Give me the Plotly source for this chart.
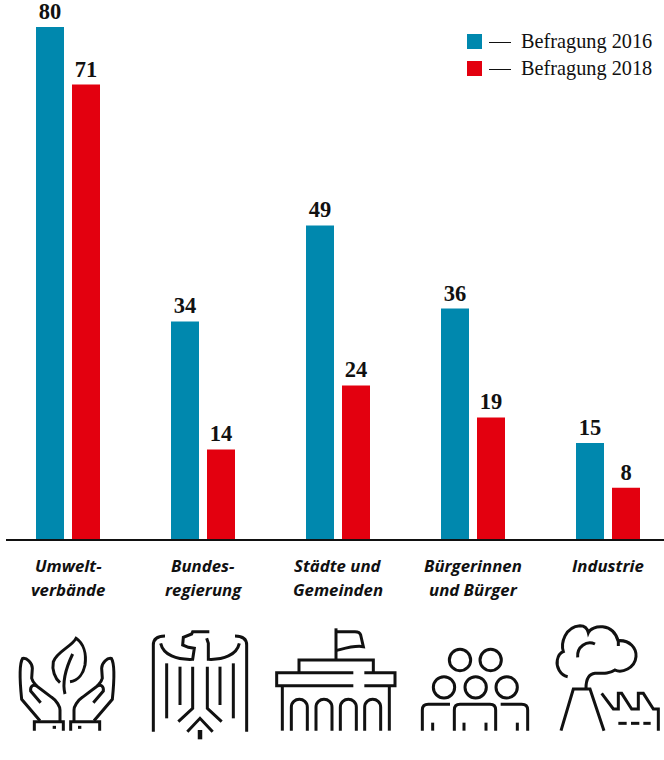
import re
import plotly.graph_objects as go

# Survey results per actor group
categories = ["Umweltverbände", "Bundesregierung", "Städte und Gemeinden", "Bürgerinnen und Bürger", "Industrie"]
label_lines = [["Umwelt-", "verbände"], ["Bundes-", "regierung"], ["Städte und", "Gemeinden"], ["Bürgerinnen", "und Bürger"], ["Industrie"]]
values_2016 = [80, 34, 49, 36, 15]
values_2018 = [71, 14, 24, 19, 8]
series_names = ["Befragung 2016", "Befragung 2018"]
series_colors = ["#0088AE", "#E3000F"]

WIDTH, HEIGHT = 664, 760
LEFT, BASE = 6, 539          # plot area's left edge and baseline, in page pixels
STEP, FIRST = 135, 68        # category spacing and first category centre
UNIT = 6.4                   # pixels per survey point
INK = "#111111"
SERIF = "Liberation Serif"
SANS = "Open Sans"


def px(x):
    return (x - LEFT) / (WIDTH - LEFT)


def py(y):
    return (BASE - y) / BASE


def to_paper(path, ox, oy, mirror=None):
    """Turn a path drawn at 3x scale around (ox, oy) into paper coordinates."""
    nums = iter(range(10 ** 6))

    def conv(m):
        v = float(m.group())
        if next(nums) % 2 == 0:
            v = v if mirror is None else 2 * mirror - v
            return f"{px(ox + v / 3):.5f}"
        return f"{py(oy + v / 3):.5f}"

    return re.sub(r"-?\d+(?:\.\d+)?", conv, path)


shapes = []


def stroke(path, ox, oy, width=3, mirror=None):
    shapes.append(dict(type="path", xref="paper", yref="paper", layer="above",
                       path=to_paper(path, ox, oy, mirror),
                       line=dict(color=INK, width=width)))


def ring(cx, cy, r, ox, oy, width=3):
    shapes.append(dict(type="circle", xref="paper", yref="paper",
                       x0=px(ox + (cx - r) / 3), x1=px(ox + (cx + r) / 3),
                       y0=py(oy + (cy + r) / 3), y1=py(oy + (cy - r) / 3),
                       line=dict(color=INK, width=width)))


# Hands around a leaf
HANDS = [
    "M103,362 L103,335 L190,335 L190,362",
    "M120,332 L65,268 C60,220 58,160 68,145 C80,142 97,160 97,175 L95,205 C97,215 105,222 110,228",
    "M122,278 L92,243 C90,228 100,222 110,228 L155,262 C170,272 180,290 180,300 L180,335",
    "M158,352 L168,352",
]
for p in HANDS:
    stroke(p, 0, 610)
    stroke(p, 0, 610, mirror=201)
stroke("M180,218 C165,205 155,180 160,155 C170,125 215,110 228,85 C250,100 260,130 255,165 C250,190 235,212 210,215", 0, 610)
stroke("M195,252 C188,225 190,190 218,132", 0, 610)

# Federal eagle
EAGLE_SIDE = [
    "M460,365 L460,105 C460,85 475,78 495,78",
    "M500,160 L500,325",
    "M540,170 L540,285",
    "M578,170 L578,295 L535,335",
]
for p in EAGLE_SIDE:
    stroke(p, 0, 610)
    stroke(p, 0, 610, mirror=600)
stroke("M628,65 L578,65 L575,72 L550,82 L548,105 L565,112 L583,115 L578,148 C530,150 490,135 482,100", 0, 610)
stroke("M620,85 L625,100 L625,148 C670,150 710,135 718,100", 0, 610)
stroke("M562,365 L600,325 L638,365", 0, 610)
stroke("M600,360 L600,388", 0, 610, width=4.5)

# Town hall with flag
stroke("M213,150 L213,55", 265, 610)
stroke("M213,65 L270,65 C280,65 285,68 287,75 L295,110 C270,105 240,115 213,122", 265, 610)
stroke("M102,187 L102,150 L325,150 L325,187", 265, 610)
stroke("M265,188 L35,188 L35,227 L265,227", 265, 610)
stroke("M298,188 L390,188 L390,227 L298,227", 265, 610)
stroke("M52,228 L52,362", 265, 610)
stroke("M373,228 L373,362", 265, 610)
for c in (103, 177, 250, 323):
    stroke(f"M{c - 24},362 L{c - 24},292 C{c - 24},260 {c + 24},260 {c + 24},292 L{c + 24},362", 265, 610)

# Group of people
for cx, cy in ((585, 150), (677, 150), (537, 232), (632, 232), (725, 232)):
    ring(cx, cy, 32, 265, 610)
stroke("M472,362 L472,300 C472,288 478,283 490,283 L555,283", 265, 610)
stroke("M568,362 L568,300 C568,288 575,283 585,283 L675,283 C687,283 692,288 692,300 L692,362", 265, 610)
stroke("M707,283 L770,283 C782,283 788,288 788,300 L788,362", 265, 610)
for x in (503, 597, 663, 757):
    stroke(f"M{x},338 L{x},362", 265, 610)

# Factory with smoke cloud
stroke("M113,200 C90,195 78,170 82,150 C85,135 92,128 100,125 C92,100 105,50 150,47 C165,47 172,55 175,68 C185,45 250,35 265,95 L265,108", 530, 610)
stroke("M265,92 C300,90 320,115 318,140 C315,175 275,190 255,180 C240,190 225,190 195,190 C175,192 168,210 168,235", 530, 610)
stroke("M143,142 C140,110 170,90 195,102", 530, 610)
stroke("M93,362 L130,237 L180,237 L222,362", 530, 610)
stroke("M215,250 L250,297 L265,297 L265,250 L275,250 L305,297 L325,297 L325,250 L340,250 L370,297 L385,297 L385,362", 530, 610)
for a, b in ((265, 290), (303, 328), (340, 362)):
    stroke(f"M{a},340 L{b},340", 530, 610)

# Hand-placed key: swatch, dash and serif label
annotations = []
for name, color, top in zip(series_names, series_colors, (34, 61)):
    shapes.append(dict(type="rect", xref="paper", yref="paper", line_width=0, fillcolor=color,
                       x0=px(467), x1=px(482), y0=py(top + 15), y1=py(top)))
    shapes.append(dict(type="line", xref="paper", yref="paper", line=dict(color=INK, width=1),
                       x0=px(489), x1=px(511), y0=py(top + 8.5), y1=py(top + 8.5)))
    annotations.append(dict(xref="paper", yref="paper", x=px(521), y=py(top + 7.5), text=name,
                            showarrow=False, xanchor="left", yanchor="middle", xshift=-2,
                            font=dict(family=SERIF, size=20.3, color=INK)))

# Two-line category captions set with wider leading than a tick label allows
for i, lines in enumerate(label_lines):
    for j, line in enumerate(lines):
        annotations.append(dict(xref="x", yref="paper", x=i, y=py(565 + 24 * j), text=line,
                                showarrow=False, xanchor="center", yanchor="middle",
                                font=dict(family=SANS, size=16.8, color=INK, weight=700, style="italic")))

fig = go.Figure()
for name, color, vals in zip(series_names, series_colors, (values_2016, values_2018)):
    fig.add_bar(x=categories, y=vals, name=name, marker=dict(color=color, line_width=0),
                text=vals, textposition="outside", textangle=0, cliponaxis=False,
                textfont=dict(family=SERIF, size=22.5, color=INK, weight=700))

fig.update_layout(
    width=WIDTH, height=HEIGHT, autosize=False,
    margin=dict(l=LEFT, r=0, t=0, b=HEIGHT - BASE, pad=0),
    paper_bgcolor="white", plot_bgcolor="white",
    barmode="group", bargap=1 - 72 / STEP, bargroupgap=8 / 36,
    showlegend=False, shapes=shapes, annotations=annotations,
    xaxis=dict(type="category", categoryorder="array", categoryarray=categories,
               range=[(LEFT - FIRST) / STEP, (WIDTH - FIRST) / STEP],
               showgrid=False, zeroline=False, showticklabels=False, ticks="",
               showline=True, linecolor=INK, linewidth=1.5),
    yaxis=dict(range=[0, BASE / UNIT], visible=False, showgrid=False, zeroline=False),
)

fig.write_html("out.html")
